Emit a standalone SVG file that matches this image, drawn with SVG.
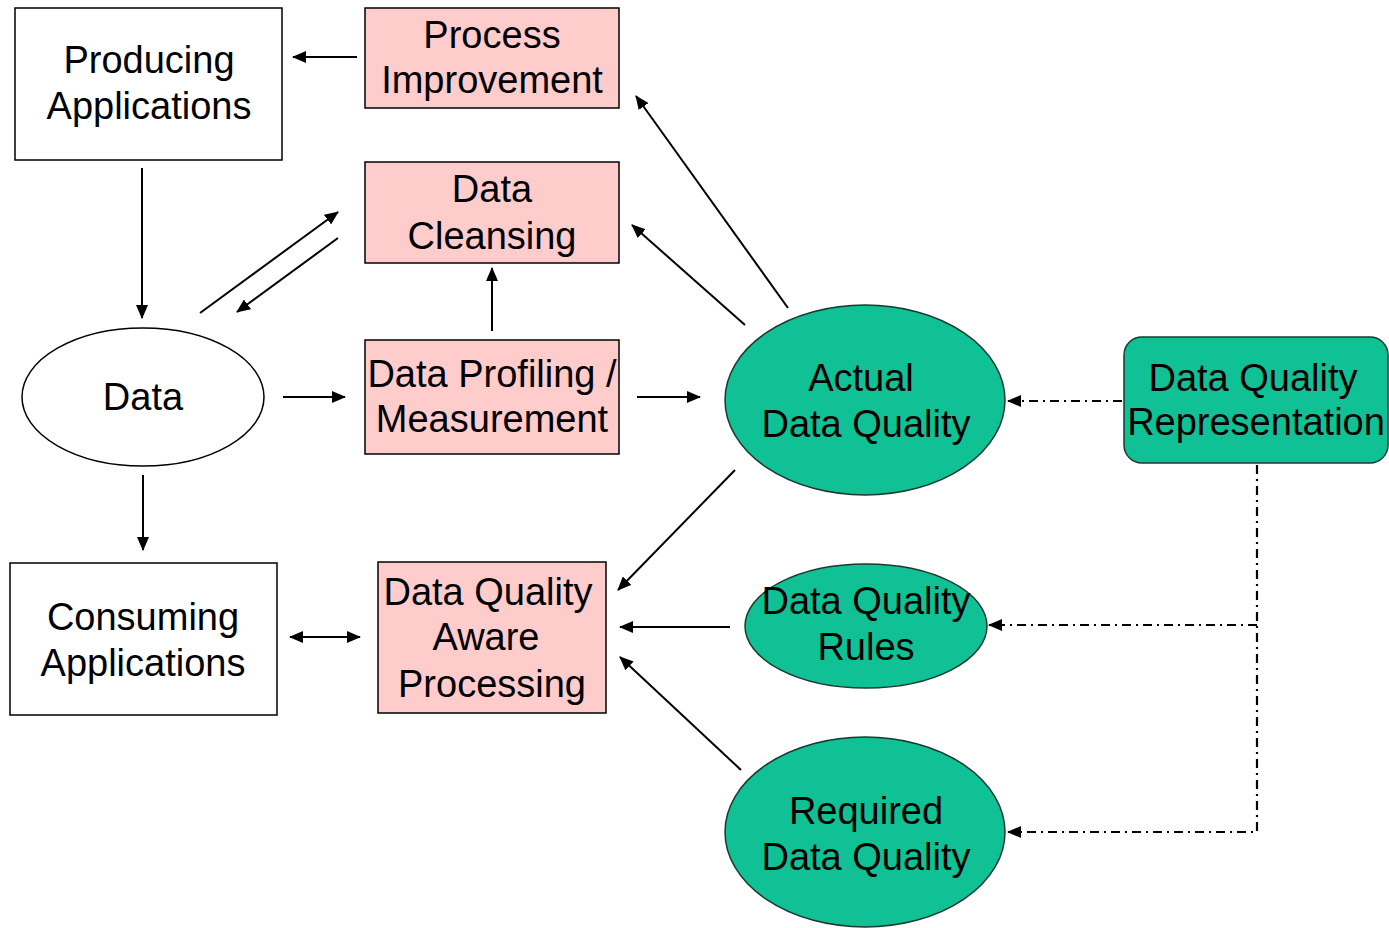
<svg xmlns="http://www.w3.org/2000/svg" width="1389" height="928" viewBox="0 0 1389 928">
<defs>
<marker id="ah" markerUnits="userSpaceOnUse" markerWidth="14" markerHeight="12" refX="13" refY="6" orient="auto-start-reverse" viewBox="0 0 14 12">
<path d="M0,0 L14,6 L0,12 Z" fill="#000"/>
</marker>
<style>
.box{fill:#fff;stroke:#000;stroke-width:1.5}
.pink{fill:#ffcccc;stroke:#000;stroke-width:1.5}
.green{fill:#0fc194;stroke:#1a3a30;stroke-width:1.5}
.t{font-family:"Liberation Sans",Arial,sans-serif;font-size:38px;fill:#000;text-anchor:middle}
.c{stroke:#000;stroke-width:2;fill:none;marker-end:url(#ah)}
.d{stroke:#000;stroke-width:2.2;fill:none;stroke-dasharray:9 5 2 5}
</style>
</defs>
<rect width="1389" height="928" fill="#fff"/>
<g id="producing">
<rect class="box" x="15" y="8" width="267" height="152"/>
<text class="t" x="149" y="73">Producing</text>
<text class="t" x="149" y="119">Applications</text>
</g>
<g id="process-improvement">
<rect class="pink" x="365" y="8" width="254" height="100"/>
<text class="t" x="492" y="48">Process</text>
<text class="t" x="492" y="93">Improvement</text>
</g>
<g id="data-cleansing">
<rect class="pink" x="365" y="162" width="254" height="101"/>
<text class="t" x="492" y="202">Data</text>
<text class="t" x="492" y="249">Cleansing</text>
</g>
<g id="data-profiling">
<rect class="pink" x="365" y="340" width="254" height="114"/>
<text class="t" x="492" y="387">Data Profiling /</text>
<text class="t" x="492" y="432">Measurement</text>
</g>
<g id="data">
<ellipse class="box" cx="143" cy="397" rx="121" ry="69"/>
<text class="t" x="143" y="410">Data</text>
</g>
<g id="consuming">
<rect class="box" x="10" y="563" width="267" height="152"/>
<text class="t" x="143" y="630">Consuming</text>
<text class="t" x="143" y="676">Applications</text>
</g>
<g id="dq-aware">
<rect class="pink" x="378" y="562" width="228" height="151"/>
<text class="t" x="488" y="605">Data Quality</text>
<text class="t" x="486" y="650">Aware</text>
<text class="t" x="492" y="697">Processing</text>
</g>
<g id="actual-dq">
<ellipse class="green" cx="865" cy="400" rx="140" ry="95"/>
<text class="t" x="861" y="391">Actual</text>
<text class="t" x="866" y="437">Data Quality</text>
</g>
<g id="dq-rules">
<ellipse class="green" cx="866" cy="626" rx="121" ry="62"/>
<text class="t" x="866" y="614">Data Quality</text>
<text class="t" x="866" y="660">Rules</text>
</g>
<g id="required-dq">
<ellipse class="green" cx="865" cy="832" rx="140" ry="95"/>
<text class="t" x="866" y="824">Required</text>
<text class="t" x="866" y="870">Data Quality</text>
</g>
<g id="dq-representation">
<rect class="green" x="1124" y="337" width="264" height="126" rx="18"/>
<text class="t" x="1253" y="391">Data Quality</text>
<text class="t" x="1256" y="435">Representation</text>
</g>
<g id="connectors">
<line class="c" x1="357" y1="57" x2="293" y2="57"/>
<line class="c" x1="142" y1="168" x2="142" y2="318"/>
<line class="c" x1="200" y1="313" x2="338" y2="212"/>
<line class="c" x1="338" y1="238" x2="237" y2="312"/>
<line class="c" x1="283" y1="397" x2="345" y2="397"/>
<line class="c" x1="492" y1="331" x2="492" y2="268"/>
<line class="c" x1="637" y1="397" x2="700" y2="397"/>
<line class="c" x1="788" y1="308" x2="636" y2="96"/>
<line class="c" x1="745" y1="325" x2="632" y2="225"/>
<line class="c" x1="143" y1="475" x2="143" y2="550"/>
<line class="c" x1="290" y1="637" x2="360" y2="637" style="marker-start:url(#ah)"/>
<line class="c" x1="735" y1="470" x2="618" y2="590"/>
<line class="c" x1="730" y1="627" x2="620" y2="627"/>
<line class="c" x1="741" y1="770" x2="620" y2="657"/>
<line class="d" x1="1122" y1="401" x2="1008" y2="401" style="marker-end:url(#ah)"/>
<polyline class="d" points="1257,465 1257,832 1008,832" style="marker-end:url(#ah)"/>
<line class="d" x1="1257" y1="625" x2="989" y2="625" style="marker-end:url(#ah)"/>
</g>
</svg>
